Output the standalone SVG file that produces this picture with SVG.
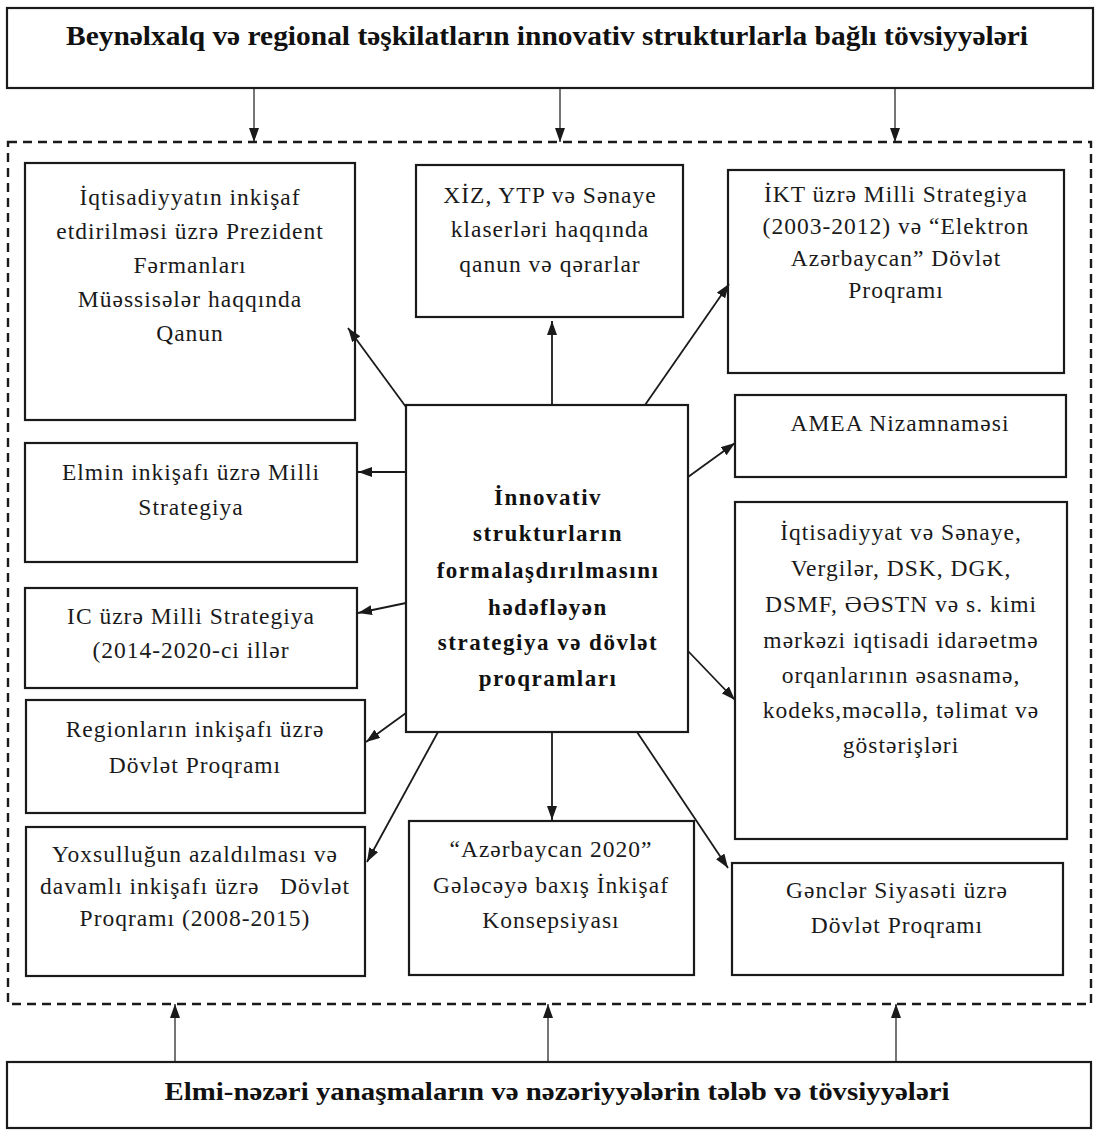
<svg xmlns="http://www.w3.org/2000/svg" width="1097" height="1132" viewBox="0 0 1097 1132">
<style>
.box{fill:#fff;stroke:#1a1a1a;stroke-width:2.2}
.t{font-family:"Liberation Serif","Times New Roman",serif;font-size:23.5px;letter-spacing:1px;fill:#1a1a1a;text-anchor:middle}
.tb{font-family:"Liberation Serif","Times New Roman",serif;font-weight:bold;fill:#111;text-anchor:middle}
.c{stroke:#1a1a1a;stroke-width:1.8;fill:none;marker-end:url(#ah)}
.v{stroke:#1a1a1a;stroke-width:1.2;fill:none;marker-end:url(#ah)}
</style>
<defs>
<marker id="ah" viewBox="0 0 14 10" refX="14" refY="5" markerWidth="14" markerHeight="10" orient="auto" markerUnits="userSpaceOnUse">
<path d="M0,0 L14,5 L0,10 z" fill="#1a1a1a"/>
</marker>
</defs>
<rect width="1097" height="1132" fill="#fff"/>

<g id="container">
<rect x="8" y="142" width="1083" height="862" fill="none" stroke="#1a1a1a" stroke-width="2.4" stroke-dasharray="9,6"/>
</g>

<g id="top">
<rect class="box" x="7" y="8" width="1086" height="80"/>
<text class="tb" x="547" y="45" font-size="28" textLength="962" lengthAdjust="spacingAndGlyphs">Beynəlxalq və regional təşkilatların innovativ strukturlarla bağlı tövsiyyələri</text>
</g>

<g id="bottom">
<rect class="box" x="7" y="1062" width="1084" height="66"/>
<text class="tb" x="557" y="1100" font-size="26" textLength="785" lengthAdjust="spacingAndGlyphs">Elmi-nəzəri yanaşmaların və nəzəriyyələrin tələb və tövsiyyələri</text>
</g>

<g id="center">
<rect class="box" x="406" y="405" width="282" height="327" stroke-width="2.6"/>
<g class="tb" font-size="23" letter-spacing="1.5">
<text x="548" y="505">İnnovativ</text>
<text x="548" y="541">strukturların</text>
<text x="548" y="578">formalaşdırılmasını</text>
<text x="548" y="615">hədəfləyən</text>
<text x="548" y="650">strategiya və dövlət</text>
<text x="548" y="686">proqramları</text>
</g>
</g>

<g id="n1">
<rect class="box" x="25" y="163" width="330" height="257"/>
<text class="t" x="190" y="205">İqtisadiyyatın inkişaf</text>
<text class="t" x="190" y="239">etdirilməsi üzrə Prezident</text>
<text class="t" x="190" y="273">Fərmanları</text>
<text class="t" x="190" y="307">Müəssisələr haqqında</text>
<text class="t" x="190" y="341">Qanun</text>
</g>

<g id="n2">
<rect class="box" x="416" y="165" width="267" height="152"/>
<text class="t" x="550" y="203">XİZ, YTP və Sənaye</text>
<text class="t" x="550" y="237">klaserləri haqqında</text>
<text class="t" x="550" y="272">qanun və qərarlar</text>
</g>

<g id="n3">
<rect class="box" x="728" y="170" width="336" height="203"/>
<text class="t" x="896" y="202">İKT üzrə Milli Strategiya</text>
<text class="t" x="896" y="234">(2003-2012) və “Elektron</text>
<text class="t" x="896" y="266">Azərbaycan” Dövlət</text>
<text class="t" x="896" y="298">Proqramı</text>
</g>

<g id="n4">
<rect class="box" x="735" y="395" width="331" height="82"/>
<text class="t" x="900" y="431">AMEA Nizamnaməsi</text>
</g>

<g id="n5">
<rect class="box" x="735" y="502" width="332" height="337"/>
<text class="t" x="901" y="540">İqtisadiyyat və Sənaye,</text>
<text class="t" x="901" y="576">Vergilər, DSK, DGK,</text>
<text class="t" x="901" y="612">DSMF, ƏƏSTN və s. kimi</text>
<text class="t" x="901" y="648">mərkəzi iqtisadi idarəetmə</text>
<text class="t" x="901" y="683">orqanlarının əsasnamə,</text>
<text class="t" x="901" y="718">kodeks,məcəllə, təlimat və</text>
<text class="t" x="901" y="753">göstərişləri</text>
</g>

<g id="n6">
<rect class="box" x="25" y="443" width="332" height="119"/>
<text class="t" x="191" y="480">Elmin inkişafı üzrə Milli</text>
<text class="t" x="191" y="515">Strategiya</text>
</g>

<g id="n7">
<rect class="box" x="25" y="588" width="332" height="100"/>
<text class="t" x="191" y="624">IC üzrə Milli Strategiya</text>
<text class="t" x="191" y="658">(2014-2020-ci illər</text>
</g>

<g id="n8">
<rect class="box" x="26" y="700" width="339" height="113"/>
<text class="t" x="195" y="737">Regionların inkişafı üzrə</text>
<text class="t" x="195" y="773">Dövlət Proqramı</text>
</g>

<g id="n9">
<rect class="box" x="26" y="827" width="339" height="149"/>
<text class="t" x="195" y="862">Yoxsulluğun azaldılması və</text>
<text class="t" x="195" y="894" style="white-space:pre">davamlı inkişafı üzrə   Dövlət</text>
<text class="t" x="195" y="926">Proqramı (2008-2015)</text>
</g>

<g id="n10">
<rect class="box" x="409" y="821" width="285" height="154"/>
<text class="t" x="551" y="857">“Azərbaycan 2020”</text>
<text class="t" x="551" y="893">Gələcəyə baxış İnkişaf</text>
<text class="t" x="551" y="928">Konsepsiyası</text>
</g>

<g id="n11">
<rect class="box" x="732" y="863" width="331" height="112"/>
<text class="t" x="897" y="898">Gənclər Siyasəti üzrə</text>
<text class="t" x="897" y="933">Dövlət Proqramı</text>
</g>

<g id="connectors">
<line class="v" x1="254" y1="88" x2="254" y2="142"/>
<line class="v" x1="560" y1="88" x2="560" y2="142"/>
<line class="v" x1="895" y1="88" x2="895" y2="142"/>
<line class="v" x1="175" y1="1062" x2="175" y2="1004"/>
<line class="v" x1="548" y1="1062" x2="548" y2="1004"/>
<line class="v" x1="896" y1="1062" x2="896" y2="1004"/>

<line class="c" x1="552" y1="405" x2="552" y2="321"/>
<line class="c" x1="406" y1="407" x2="348" y2="328"/>
<line class="c" x1="645" y1="405" x2="729" y2="284"/>
<line class="c" x1="688" y1="477" x2="735" y2="443"/>
<line class="c" x1="688" y1="651" x2="735" y2="700"/>
<line class="c" x1="406" y1="472" x2="358" y2="472"/>
<line class="c" x1="406" y1="603" x2="358" y2="613"/>
<line class="c" x1="406" y1="713" x2="366" y2="742"/>
<line class="c" x1="438" y1="732" x2="367" y2="862"/>
<line class="c" x1="552" y1="732" x2="552" y2="820"/>
<line class="c" x1="637" y1="732" x2="728" y2="868"/>
</g>
</svg>
